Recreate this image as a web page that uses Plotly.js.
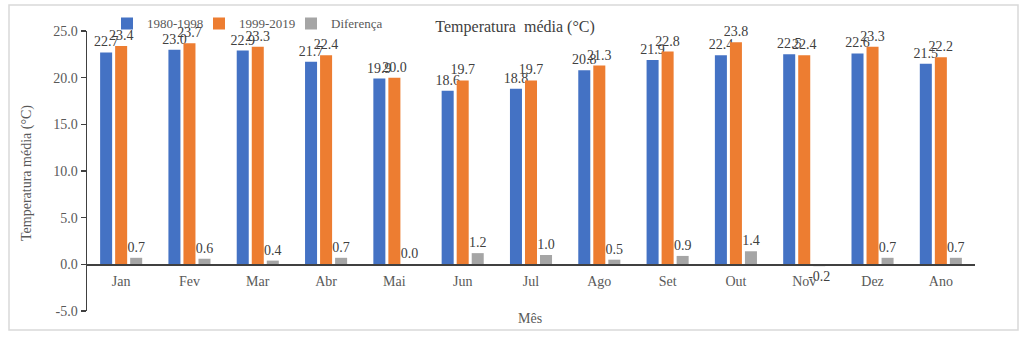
<!DOCTYPE html>
<html>
<head>
<meta charset="utf-8">
<script src="https://cdn.plot.ly/plotly-3.0.1.min.js"></script>
<style>
  html, body { margin: 0; padding: 0; background: #ffffff; }
  #chart { width: 1024px; height: 337px; }
</style>
</head>
<body>
<div id="chart"></div>
<script>
const months = ["Jan", "Fev", "Mar", "Abr", "Mai", "Jun", "Jul", "Ago", "Set", "Out", "Nov", "Dez", "Ano"];
const period1 = [22.7, 23.0, 22.9, 21.7, 19.9, 18.6, 18.8, 20.8, 21.9, 22.4, 22.5, 22.6, 21.5];
const period2 = [23.4, 23.7, 23.3, 22.4, 20.0, 19.7, 19.7, 21.3, 22.8, 23.8, 22.4, 23.3, 22.2];
const diferenca = [0.7, 0.6, 0.4, 0.7, 0.0, 1.2, 1.0, 0.5, 0.9, 1.4, -0.2, 0.7, 0.7];
const seriesNames = ["1980-1998", "1999-2019", "Diferença"];
const yTickVals = [-5, 0, 5, 10, 15, 20, 25];
const yTickText = ["-5.0", "0.0", "5.0", "10.0", "15.0", "20.0", "25.0"];

const serif = "Liberation Serif, serif";
const colors = ["#4472C4", "#ED7D31", "#A5A5A5"];
const allSeries = [period1, period2, diferenca];

const traces = allSeries.map((vals, i) => ({
  type: "bar",
  name: seriesNames[i],
  x: months,
  y: vals,
  text: vals.map(v => v.toFixed(1)),
  texttemplate: "%{text}",
  textposition: "outside",
  constraintext: "none",
  cliponaxis: false,
  textfont: { family: serif, size: 14, color: "#404040" },
  marker: { color: colors[i] },
  hoverinfo: "skip"
}));

const layout = {
  width: 1024,
  height: 337,
  margin: { l: 87, r: 49, t: 31, b: 26, autoexpand: false },
  paper_bgcolor: "#ffffff",
  plot_bgcolor: "#ffffff",
  font: { family: serif, size: 13, color: "#595959" },
  barmode: "group",
  bargap: 0.34,
  bargroupgap: 0.2,
  title: {
    text: "Temperatura  média (°C)",
    font: { family: serif, size: 16, color: "#404040" },
    x: 0.503, xref: "container", xanchor: "center",
    y: 0.923, yref: "container", yanchor: "middle"
  },
  showlegend: true,
  legend: {
    orientation: "h",
    x: 20 / 888, xanchor: "left",
    y: 1.027, yanchor: "middle",
    font: { family: serif, size: 13, color: "#595959" },
    entrywidth: 47,
    entrywidthmode: "pixels",
    itemwidth: 30,
    bgcolor: "rgba(0,0,0,0)"
  },
  xaxis: {
    type: "category",
    anchor: "free",
    position: 5 / 30,
    showline: true,
    linecolor: "#404040",
    linewidth: 1.5,
    ticks: "",
    ticklabelstandoff: 3,
    tickfont: { family: serif, size: 14, color: "#595959" },
    showgrid: false,
    zeroline: false,
    fixedrange: true
  },
  yaxis: {
    range: [-5, 25],
    tickvals: yTickVals,
    ticktext: yTickText,
    showline: true,
    linecolor: "#404040",
    linewidth: 1.5,
    ticks: "outside",
    ticklen: 5,
    tickwidth: 1.5,
    tickcolor: "#404040",
    tickfont: { family: serif, size: 14, color: "#595959" },
    showgrid: false,
    zeroline: false,
    fixedrange: true
  },
  annotations: [
    {
      text: "Temperatura média (°C)",
      xref: "paper", yref: "paper",
      x: (27 - 87) / 888, y: (311 - 173) / 280,
      xanchor: "center", yanchor: "middle",
      textangle: -90,
      showarrow: false,
      font: { family: serif, size: 14, color: "#595959" }
    },
    {
      text: "Mês",
      xref: "paper", yref: "paper",
      x: (530 - 87) / 888, y: (311 - 318) / 280,
      xanchor: "center", yanchor: "middle",
      showarrow: false,
      font: { family: serif, size: 14, color: "#595959" }
    }
  ],
  shapes: [
    {
      type: "rect", xref: "paper", yref: "paper",
      x0: (9 - 87) / 888, x1: (1018 - 87) / 888,
      y0: (311 - 330) / 280, y1: (311 - 5) / 280,
      line: { color: "#d9d9d9", width: 1.5 },
      fillcolor: "rgba(0,0,0,0)",
      layer: "below"
    }
  ]
};

Plotly.newPlot("chart", traces, layout, { staticPlot: true, displayModeBar: false });
</script>
</body>
</html>
